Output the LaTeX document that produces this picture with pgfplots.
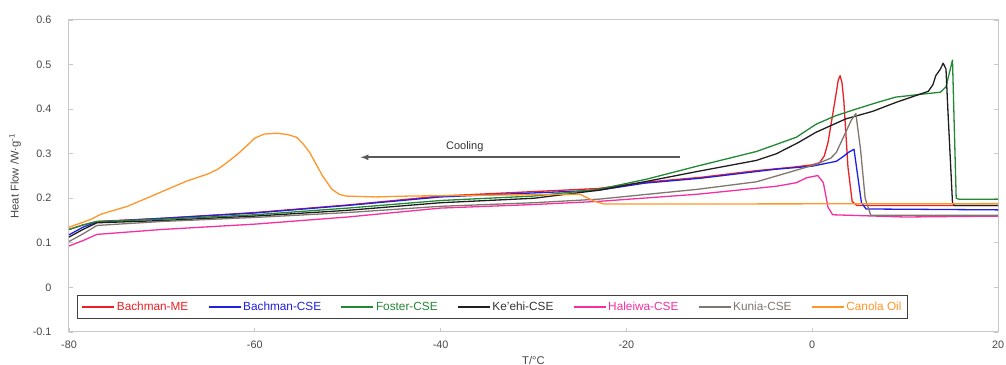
\documentclass[border=0pt]{standalone}
\usepackage{pgfplots}
\pgfplotsset{compat=1.18}
\usepackage{fontspec}
\setmainfont{Liberation Sans}
\definecolor{cRed}{RGB}{236,32,36}
\definecolor{cBlue}{RGB}{32,32,228}
\definecolor{cGreen}{RGB}{34,136,52}
\definecolor{cBlack}{RGB}{30,30,30}
\definecolor{cPink}{RGB}{244,48,160}
\definecolor{cGray}{RGB}{128,118,112}
\definecolor{cOrange}{RGB}{255,150,40}
\definecolor{cFrame}{RGB}{200,200,200}
\definecolor{cText}{RGB}{70,70,70}
\begin{document}
\begin{tikzpicture}
\begin{axis}[
  scale only axis, width=929pt, height=312pt,
  xmin=-80, xmax=20, ymin=-0.1, ymax=0.6,
  xtick={-80,-60,-40,-20,0,20},
  ytick={-0.1,0,0.1,0.2,0.3,0.4,0.5,0.6},
  yticklabels={-0.1,0,0.1,0.2,0.3,0.4,0.5,0.6},
  xtick pos=bottom, ytick pos=both,
  tick align=inside, major tick length=4pt,
  tick style={color=cFrame, line width=0.8pt},
  axis line style={color=cFrame, line width=1pt},
  /pgf/number format/assume math mode=true,
  tick label style={font=\fontsize{10.8}{12}\selectfont, text=cText},
  yticklabel style={xshift=-14pt},
  xticklabel style={yshift=-5pt},
  xlabel={T/°C}, ylabel={Heat Flow /W·g\textsuperscript{-1}},
  label style={font=\fontsize{11.2}{13}\selectfont, text=cText},
  xlabel style={at={(axis description cs:0.5,-0.09)}, anchor=center},
  ylabel style={at={(axis description cs:-0.058,0.5)}, anchor=center},
  legend columns=-1,
  legend style={at={(axis description cs:0.0086,0.0417)}, anchor=south west,
    draw=black!75, line width=1.2pt, font=\fontsize{11.8}{13}\selectfont,
    inner xsep=4pt, inner ysep=4.5pt,
    /tikz/every even column/.append style={column sep=17.5pt}},
  legend image code/.code={\draw[#1, line width=1.3pt] (0pt,0pt) -- (32pt,0pt);},
  every axis plot/.append style={line width=1.3pt, line join=round},
]
\addplot[cRed] coordinates {(-80,0.13) (-78.5,0.14) (-77,0.148) (-70,0.155) (-60,0.168) (-50,0.185) (-40,0.205) (-30,0.215) (-23,0.222) (-18,0.236) (-12,0.247) (-6,0.262) (-2,0.27) (0,0.275) (0.8,0.28) (1.3,0.295) (1.7,0.325) (2.1,0.375) (2.6,0.438) (2.8,0.465) (3.0,0.475) (3.2,0.46) (3.4,0.42) (3.85,0.27) (4.3,0.193) (4.8,0.184) (20,0.184)};
\addlegendentry{\textcolor{cRed}{Bachman-ME}}
\addplot[cBlue] coordinates {(-80,0.118) (-78.5,0.135) (-77,0.147) (-70,0.155) (-60,0.167) (-50,0.184) (-40,0.203) (-30,0.212) (-23,0.218) (-18,0.234) (-12,0.245) (-4,0.265) (0,0.272) (2.6,0.283) (3.3,0.293) (3.9,0.303) (4.5,0.31) (4.9,0.25) (5.3,0.19) (5.8,0.176) (20,0.174)};
\addlegendentry{\textcolor{cBlue}{Bachman-CSE}}
\addplot[cGreen] coordinates {(-80,0.13) (-78.5,0.14) (-77,0.148) (-70,0.153) (-60,0.163) (-50,0.178) (-40,0.195) (-30,0.205) (-23,0.22) (-17.8,0.243) (-12.4,0.272) (-6,0.305) (-1.7,0.337) (0.4,0.366) (2.5,0.385) (4.7,0.40) (7,0.415) (9,0.427) (12,0.434) (13.8,0.438) (14.4,0.45) (15.1,0.51) (15.5,0.2) (15.8,0.198) (20,0.198)};
\addlegendentry{\textcolor{cGreen}{Foster-CSE}}
\addplot[cBlack] coordinates {(-80,0.113) (-78.5,0.13) (-77,0.145) (-70,0.15) (-60,0.16) (-50,0.173) (-40,0.19) (-30,0.2) (-23,0.218) (-17.8,0.238) (-12.4,0.26) (-6,0.285) (-3.85,0.30) (-1.5,0.325) (0.4,0.348) (3.6,0.378) (6.5,0.395) (9,0.415) (11.1,0.43) (12.5,0.44) (13.0,0.455) (13.3,0.475) (13.8,0.49) (14.1,0.503) (14.4,0.49) (14.6,0.40) (15.1,0.19) (15.3,0.184) (20,0.184)};
\addlegendentry{\textcolor{black!80}{Ke'ehi-CSE}}
\addplot[cPink] coordinates {(-80,0.093) (-78.5,0.105) (-77,0.119) (-70,0.13) (-60,0.142) (-50,0.158) (-40,0.178) (-30,0.186) (-23,0.193) (-12.4,0.209) (-3.85,0.227) (-1.7,0.235) (-0.6,0.246) (0.6,0.251) (1.2,0.235) (1.7,0.18) (2.2,0.163) (10,0.158) (20,0.16)};
\addlegendentry{\textcolor{cPink}{Haleiwa-CSE}}
\addplot[cGray] coordinates {(-80,0.103) (-78.5,0.12) (-77,0.139) (-70,0.148) (-60,0.157) (-50,0.168) (-40,0.182) (-30,0.19) (-23,0.198) (-12.4,0.22) (-6,0.237) (-3.85,0.25) (0.4,0.276) (2.0,0.29) (2.6,0.303) (3.6,0.348) (4.2,0.375) (4.7,0.39) (5.2,0.31) (5.7,0.2) (6.3,0.162) (20,0.162)};
\addlegendentry{\textcolor{cGray}{Kunia-CSE}}
\addplot[cOrange] coordinates {(-80,0.135) (-77.6,0.153) (-76.6,0.164) (-73.7,0.182) (-70.2,0.213) (-67.4,0.238) (-65,0.255) (-64,0.265) (-63,0.28) (-61.8,0.30) (-60.9,0.317) (-60,0.335) (-59,0.344) (-57.6,0.346) (-56.5,0.343) (-55.5,0.337) (-54.8,0.322) (-54.1,0.303) (-52.7,0.25) (-51.7,0.22) (-50.9,0.209) (-50.2,0.205) (-47,0.203) (-43.4,0.205) (-35,0.207) (-25,0.209) (-23.4,0.193) (-22.4,0.187) (20,0.188)};
\addlegendentry{\textcolor{cOrange}{Canola Oil}}
\draw[-latex, line width=1.6pt, color=black!65] (axis cs:-14.2,0.292) -- (axis cs:-48.6,0.292);
\node[font=\fontsize{11}{13}\selectfont, text=black!80] at (axis cs:-37.4,0.315) {Cooling};
\coordinate (bl) at (rel axis cs:0,0);
\coordinate (tr) at (rel axis cs:1,1);
\end{axis}
\pgfresetboundingbox
\path ([shift={(-69pt,-33pt)}]bl) rectangle ([shift={(8pt,20pt)}]tr);
\end{tikzpicture}
\end{document}
